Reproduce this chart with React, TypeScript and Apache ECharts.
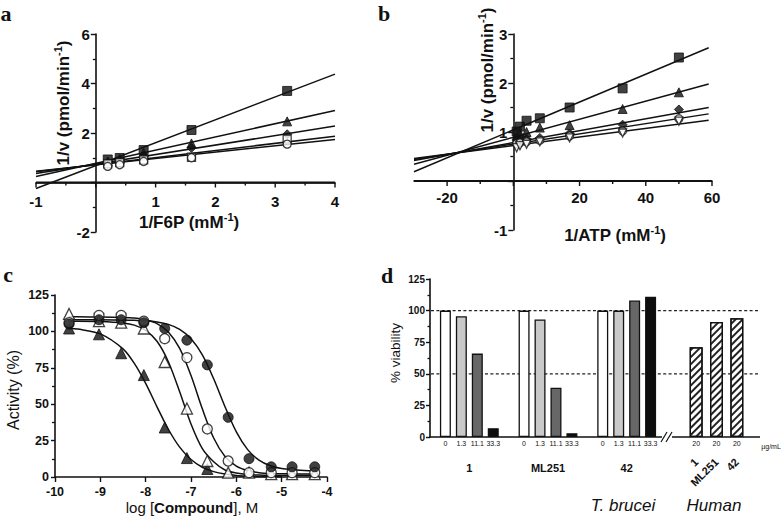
import React, { useEffect, useRef } from 'react';
import * as echarts from 'echarts';

const FONT = '"Liberation Sans", Arial, Helvetica, sans-serif';
const SERIF = '"Liberation Serif", "Times New Roman", serif';
const INK = '#111';

// ---------- Panel a : 1/v vs 1/F6P ----------
const aX = [0.2, 0.4, 0.8, 1.6, 3.2];
const aSquareFilled = [0.93, 0.99, 1.31, 2.12, 3.7];
const aTriangleFilled = [0.85, 0.95, 1.2, 1.58, 2.47];
const aDiamondFilled = [0.8, 0.88, 1.05, 1.4, 1.95];
const aSquareOpen = [0.75, 0.8, 0.92, 1.02, 1.75];
const aCircleOpen = [0.65, 0.72, 0.85, 1.0, 1.55];
const aLineX = [-1, 4];
const aLineSquareFilled = [-0.24, 4.38];
const aLineTriangleFilled = [0.24, 2.91];
const aLineDiamondFilled = [0.36, 2.28];
const aLineSquareOpen = [0.43, 1.87];
const aLineCircleOpen = [0.45, 1.74];
const aXTicks = [-1, -0.5, 0, 0.5, 1, 1.5, 2, 2.5, 3, 3.5, 4];

// ---------- Panel b : 1/v vs 1/ATP ----------
const bX = [1, 2, 4, 8, 17, 33, 50];
const bSquareFilled = [1.01, 1.11, 1.23, 1.28, 1.5, 1.89, 2.52];
const bTriangleFilled = [0.93, 0.97, 1.0, 1.09, 1.14, 1.47, 1.81];
const bDiamondFilled = [0.82, 0.84, 0.86, 0.88, 0.97, 1.15, 1.46];
const bCircleOpen = [0.76, 0.78, 0.8, 0.83, 0.92, 1.02, 1.27];
const bTriangleDownOpen = [0.68, 0.72, 0.75, 0.8, 0.88, 0.98, 1.22];
const bLineX = [-30, 59];
const bLineSquareFilled = [0.19, 2.72];
const bLineTriangleFilled = [0.34, 1.98];
const bLineDiamondFilled = [0.42, 1.5];
const bLineCircleOpen = [0.44, 1.37];
const bLineTriangleDownOpen = [0.46, 1.24];
const bXTicks = [-20, -10, 0, 10, 20, 30, 40, 50, 60];

// ---------- Panel c : activity vs log[compound] ----------
const cX = [-9.69, -9.03, -8.54, -8.04, -7.58, -7.09, -6.64, -6.18, -5.72, -5.23, -4.77, -4.27];
const cCircleFilled = [105, 108, 108, 106, 102, 94, 77, 41, 12.6, 7, 7, 7];
const cCircleOpen = [106, 111, 111, 107, 95, 82, 33, 11, 3, 3, 3, 3];
const cTriangleOpen = [112, 107, 106, 102, 79, 47, 11, 3, 3, 2, 2, 2];
const cTriangleFilled = [102, 98, 85, 70, 34, 13, 5.5, null, null, null, null, null];
const cCurveX = [-9.7, -9.5, -9, -8.5, -8.25, -8, -7.75, -7.5, -7.25, -7, -6.75, -6.5, -6.25, -6, -5.75, -5.5, -5.25, -5, -4.5, -4.25];
const cCurveCircleFilled = [108, 108, 108, 107.8, 107.6, 107.3, 106.5, 104.8, 101.4, 95, 83.9, 67.5, 48.3, 31, 18.8, 11.6, 7.7, 5.8, 4.4, 4.2];
const cCurveCircleOpen = [110, 110, 109.9, 109.6, 109.2, 108, 105.4, 99.6, 88.3, 69.7, 46.8, 26.8, 14.1, 7.5, 4.4, 3.0, 2.4, 2.2, 2, 2];
const cCurveTriangleOpen = [107, 107, 106.8, 105.8, 104.3, 100.7, 93.2, 79.2, 58.6, 36.4, 19.5, 10.5, 4.8, 2.7, 1.7, 1.3, 1.1, 1, 1, 1];
const cCurveTriangleFilled = [102.2, 101.6, 98.3, 88, 78, 64.3, 48.2, 32.8, 20.5, 12, 6.7, 3.7, 2, 1.1, 0.6, 0.3, 0.2, 0.1, null, null];

// ---------- Panel d : % viability ----------
const dCompounds = ['1', 'ML251', '42'];
const dConcs = ['0', '1.3', '11.1', '33.3'];
const dTbValues = [
  [100, 100, 100], // 0 µg/mL
  [95.5, 93, 100], // 1.3
  [66, 39, 108], // 11.1
  [7, 3, 111], // 33.3
];
const dHumanConc = '20';
const dHumanValues = [71, 91, 94];
const dRefLines = [100, 50];

const barFills = ['#ffffff', '#c9c9c9', '#676767', '#0d0d0d'];

const filledStyle = { color: INK, borderColor: INK, borderWidth: 1 };
const openStyle = { color: '#fff', borderColor: INK, borderWidth: 1.3 };

// grid boxes (layout only)
const G = [
  { left: 36, top: 34, width: 299, height: 198 },
  { left: 414, top: 34, width: 298, height: 196 },
  { left: 55, top: 295, width: 272, height: 182 },
  { left: 430, top: 279, width: 236, height: 158 },
  { left: 686, top: 279, width: 61, height: 158 },
];

function pts(xs: number[], ys: (number | null)[]) {
  const out: any[] = [];
  xs.forEach((x, i) => {
    if (ys[i] !== null && ys[i] !== undefined) out.push([x, ys[i]]);
  });
  return out;
}

function markers(idx: number, xs: number[], ys: (number | null)[], symbol: string, size: number, style: any, rotate = 0) {
  return {
    type: 'scatter', xAxisIndex: idx, yAxisIndex: idx, data: pts(xs, ys),
    symbol, symbolSize: size, symbolRotate: rotate, itemStyle: style, z: 5, silent: true,
  };
}

function fitLine(idx: number, xs: number[], ys: (number | null)[], smooth: number | boolean = false) {
  return {
    type: 'line', xAxisIndex: idx, yAxisIndex: idx, data: pts(xs, ys), symbol: 'none', showSymbol: false,
    smooth, lineStyle: { color: INK, width: 1.5 }, z: 3, silent: true,
  };
}

const axLine = { lineStyle: { color: INK, width: 1.6 } };

function valAxis(gridIndex: number, min: number, max: number, interval: number, opt: any) {
  const ticks = opt.ticks ?? true;
  return {
    type: 'value', gridIndex, min, max, interval,
    offset: opt.offset ?? 0,
    axisLine: { show: true, onZero: false, ...axLine },
    axisTick: { show: ticks, length: opt.tick ?? 5, lineStyle: { color: INK, width: 1.4 } },
    minorTick: opt.minor && ticks ? { show: true, splitNumber: opt.minor, length: opt.minorLen ?? 3, lineStyle: { color: INK, width: 1.3 } } : { show: false },
    splitLine: { show: false },
    minorSplitLine: { show: false },
    axisLabel: {
      show: true, showMinLabel: true, showMaxLabel: true,
      formatter: opt.fmt ?? ((v: number) => String(v)),
      fontSize: opt.fs, fontWeight: 'bold', fontFamily: FONT, color: INK, margin: opt.margin,
    },
  };
}

function zeroOffsetX(g: { width: number }, min: number, max: number) {
  return -g.width * (0 - min) / (max - min);
}
function zeroOffsetY(g: { height: number }, min: number, max: number) {
  return -g.height * (0 - min) / (max - min);
}

function buildOption(): any {
  const hideZero = (v: number) => (v === 0 ? '' : String(v));
  return {
    animation: false,
    backgroundColor: '#fff',
    grid: G,
    xAxis: [
      valAxis(0, -1, 4, 1, { fs: 15, margin: 11, fmt: hideZero, offset: zeroOffsetY(G[0], -2, 6), ticks: false }),
      valAxis(1, -30, 60, 10, { fs: 15, margin: 9, offset: zeroOffsetY(G[1], -1, 3), ticks: false, fmt: (v: number) => (v !== 0 && v % 20 === 0 ? String(v) : '') }),
      valAxis(2, -10, -4, 1, { fs: 12.5, margin: 8 }),
      {
        type: 'category', gridIndex: 3, data: dCompounds,
        axisLine: { show: true, onZero: false, ...axLine },
        axisTick: { show: false },
        axisLabel: { fontSize: 11, fontWeight: 'bold', fontFamily: FONT, color: INK, margin: 25 },
      },
      {
        type: 'category', gridIndex: 4, data: dCompounds,
        axisLine: { show: false },
        axisTick: { show: false },
        axisLabel: { fontSize: 11, fontWeight: 'bold', fontFamily: FONT, color: INK, margin: 23, rotate: 45 },
      },
    ],
    yAxis: [
      valAxis(0, -2, 6, 2, { fs: 15, margin: 6, minor: 2, fmt: hideZero, offset: zeroOffsetX(G[0], -1, 4) }),
      valAxis(1, -1, 3, 1, { fs: 15, margin: 6, minor: 2, fmt: hideZero, offset: zeroOffsetX(G[1], -30, 60) }),
      valAxis(2, 0, 125, 25, { fs: 12.5, margin: 6, minor: 2, tick: 4 }),
      valAxis(3, 0, 125, 25, { fs: 10, margin: 5, minor: 2, tick: 4, minorLen: 2.5 }),
      { type: 'value', gridIndex: 4, min: 0, max: 125, show: false },
    ],
    series: [
      fitLine(0, aLineX, aLineSquareFilled),
      fitLine(0, aLineX, aLineTriangleFilled),
      fitLine(0, aLineX, aLineDiamondFilled),
      fitLine(0, aLineX, aLineSquareOpen),
      fitLine(0, aLineX, aLineCircleOpen),
      markers(0, aX, aSquareFilled, 'rect', 9, filledStyle),
      markers(0, aX, aTriangleFilled, 'triangle', 9, filledStyle),
      markers(0, aX, aDiamondFilled, 'diamond', 9, filledStyle),
      markers(0, aX, aSquareOpen, 'rect', 8, openStyle),
      markers(0, aX, aCircleOpen, 'circle', 8, openStyle),
      fitLine(1, bLineX, bLineSquareFilled),
      fitLine(1, bLineX, bLineTriangleFilled),
      fitLine(1, bLineX, bLineDiamondFilled),
      fitLine(1, bLineX, bLineCircleOpen),
      fitLine(1, bLineX, bLineTriangleDownOpen),
      markers(1, bX, bSquareFilled, 'rect', 9, filledStyle),
      markers(1, bX, bTriangleFilled, 'triangle', 9, filledStyle),
      markers(1, bX, bDiamondFilled, 'diamond', 9, filledStyle),
      markers(1, bX, bCircleOpen, 'circle', 8, openStyle),
      markers(1, bX, bTriangleDownOpen, 'triangle', 8, openStyle, 180),
      fitLine(2, cCurveX, cCurveCircleFilled, 0.3),
      fitLine(2, cCurveX, cCurveCircleOpen, 0.3),
      fitLine(2, cCurveX, cCurveTriangleOpen, 0.3),
      fitLine(2, cCurveX, cCurveTriangleFilled, 0.3),
      markers(2, cX, cTriangleFilled, 'triangle', 11, filledStyle),
      markers(2, cX, cTriangleOpen, 'triangle', 11, openStyle),
      markers(2, cX, cCircleOpen, 'circle', 10, openStyle),
      markers(2, cX, cCircleFilled, 'circle', 10, filledStyle),
      ...dConcs.map((conc, k) => ({
        type: 'bar', name: conc, xAxisIndex: 3, yAxisIndex: 3, data: dTbValues[k],
        barWidth: 11, barGap: '45%', z: 3, silent: true,
        itemStyle: { color: barFills[k], borderColor: INK, borderWidth: 1.3 },
        label: {
          show: true, position: 'insideBottom', offset: [0, 15], formatter: () => conc,
          fontSize: 7, fontFamily: FONT, color: INK,
        },
      })),
      {
        type: 'bar', name: 'Human', xAxisIndex: 4, yAxisIndex: 4, data: dHumanValues,
        barWidth: 13, z: 3, silent: true,
        itemStyle: {
          color: '#fff', borderColor: INK, borderWidth: 1.3,
          decal: {
            symbol: 'rect', symbolSize: 1, color: '#222', backgroundColor: '#fff',
            dashArrayX: [1, 0], dashArrayY: [1.1, 3], rotation: -Math.PI / 4,
          },
        },
        label: {
          show: true, position: 'insideBottom', offset: [0, 15], formatter: () => dHumanConc,
          fontSize: 7, fontFamily: FONT, color: INK,
        },
      },
    ],
  };
}

function supTitle(main: string, x: number, y: number, rotation: number, fs: number) {
  return {
    type: 'text', x, y, rotation, z: 10, silent: true,
    style: {
      text: `{m|${main}}{s|-1}{m|)}`,
      align: 'center', verticalAlign: 'middle',
      rich: {
        m: { fontSize: fs, fontWeight: 'bold', fontFamily: FONT, fill: INK, lineHeight: fs + 4 },
        s: { fontSize: Math.round(fs * 0.62), fontWeight: 'bold', fontFamily: FONT, fill: INK, verticalAlign: 'top', lineHeight: fs + 4 },
      },
    },
  };
}

function plainText(text: string, x: number, y: number, opt: any) {
  return {
    type: 'text', x, y, rotation: opt.rotation ?? 0, z: 10, silent: true,
    style: {
      text, align: 'center', verticalAlign: 'middle', fill: INK,
      fontSize: opt.fs, fontFamily: opt.family ?? FONT, fontWeight: opt.weight ?? 'normal',
      fontStyle: opt.style ?? 'normal',
    },
  };
}

function seg(x1: number, y1: number, x2: number, y2: number, w: number, z = 12) {
  return { type: 'line', z, silent: true, shape: { x1, y1, x2, y2 }, style: { stroke: INK, lineWidth: w } };
}

// x axis line (as a thin bar) and ticks at y = 0 of the crossing axis, through the chart's own scale
function crossAxis(toPx: (p: number[]) => number[], xMin: number, xMax: number, ticks: number[], isMajor: (v: number) => boolean) {
  const a = toPx([xMin, 0]);
  const b = toPx([xMax, 0]);
  const out: any[] = [
    { type: 'rect', z: 20, silent: true, shape: { x: a[0], y: a[1] - 0.9, width: b[0] - a[0], height: 1.8 }, style: { fill: INK } },
  ];
  ticks.forEach((v) => {
    const p = toPx([v, 0]);
    out.push({ type: 'rect', z: 20, silent: true, shape: { x: p[0] - 0.7, y: p[1], width: 1.4, height: isMajor(v) ? 5 : 3 }, style: { fill: INK } });
  });
  return out;
}

function buildGraphics(yAt: (v: number) => number, toPxA: (p: number[]) => number[], toPxB: (p: number[]) => number[]): any[] {
  const y0 = yAt(0);
  const dashed = dRefLines.map((v) => ({
    type: 'line', z: 1, silent: true,
    shape: { x1: 431, y1: yAt(v), x2: 760, y2: yAt(v) },
    style: { stroke: '#222', lineWidth: 1.3, lineDash: [3, 2.4] },
  }));
  return [
    ...crossAxis(toPxA, -1, 4, aXTicks, (v) => Number.isInteger(v)),
    ...crossAxis(toPxB, -30, 60, bXTicks, (v) => v % 20 === 0),
    plainText('a', 6, 13, { fs: 22, family: SERIF, weight: 'bold' }),
    plainText('b', 384, 13, { fs: 22, family: SERIF, weight: 'bold' }),
    plainText('c', 8, 274, { fs: 22, family: SERIF, weight: 'bold' }),
    plainText('d', 387, 275, { fs: 22, family: SERIF, weight: 'bold' }),
    supTitle('1/v (pmol/min', 63, 103, Math.PI / 2, 17),
    supTitle('1/F6P (mM', 189, 222, 0, 17),
    supTitle('1/v (pmol/min', 487, 70, Math.PI / 2, 17),
    supTitle('1/ATP (mM', 615, 235, 0, 17),
    plainText('Activity (%)', 13, 390, { fs: 16, rotation: Math.PI / 2 }),
    {
      type: 'text', x: 192, y: 507, z: 10, silent: true,
      style: {
        text: '{n|log [}{b|Compound}{n|], M}', align: 'center', verticalAlign: 'middle',
        rich: {
          n: { fontSize: 15, fontFamily: FONT, fill: INK },
          b: { fontSize: 15, fontFamily: FONT, fontWeight: 'bold', fill: INK },
        },
      },
    },
    plainText('% viability', 395, 353, { fs: 13.5, rotation: Math.PI / 2 }),
    plainText('µg/mL', 771, 446, { fs: 7 }),
    plainText('T. brucei', 623, 505, { fs: 17, style: 'italic' }),
    plainText('Human', 714, 505, { fs: 17, style: 'italic' }),
    ...dashed,
    seg(672, y0, 760, y0, 1.6, 4),
    { type: 'rect', z: 4, silent: true, shape: { x: 662, y: y0 - 2, width: 10, height: 4 }, style: { fill: '#fff' } },
    seg(661, y0 + 5, 667, y0 - 5, 1.2, 5),
    seg(666, y0 + 5, 672, y0 - 5, 1.2, 5),
  ];
}

export default function App() {
  const ref = useRef<HTMLDivElement>(null);
  useEffect(() => {
    if (!ref.current) return;
    const chart = echarts.init(ref.current, null, { renderer: 'svg' });
    chart.setOption(buildOption());
    const yAt = (v: number) => chart.convertToPixel({ yAxisIndex: 3 } as any, v) as unknown as number;
    const toPxA = (p: number[]) => chart.convertToPixel({ xAxisIndex: 0, yAxisIndex: 0 } as any, p) as unknown as number[];
    const toPxB = (p: number[]) => chart.convertToPixel({ xAxisIndex: 1, yAxisIndex: 1 } as any, p) as unknown as number[];
    chart.setOption({ graphic: buildGraphics(yAt, toPxA, toPxB) });
    return () => chart.dispose();
  }, []);
  return <div ref={ref} style={{ position: 'absolute', left: 0, top: 0, width: 784, height: 519, background: '#fff' }} />;
}
